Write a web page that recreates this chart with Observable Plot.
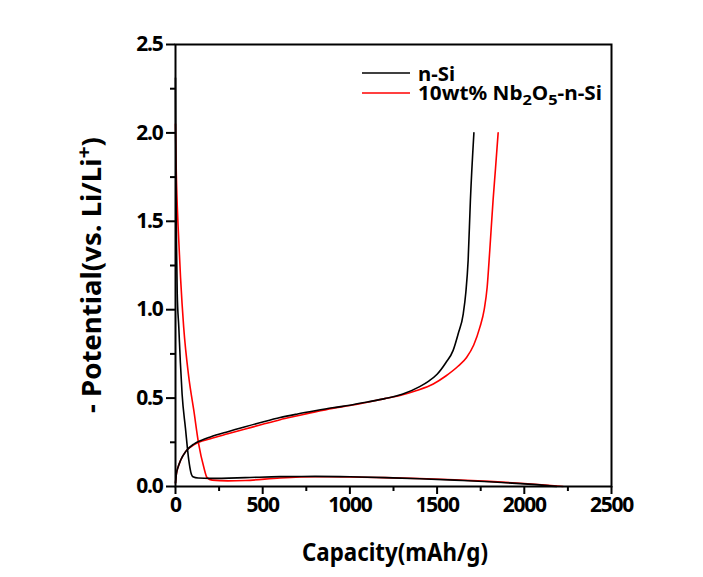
<!DOCTYPE html>
<html>
<head>
<meta charset="utf-8">
<script src="https://cdn.jsdelivr.net/npm/d3@7"></script>
<script src="https://cdn.jsdelivr.net/npm/@observablehq/plot@0.6"></script>
<style>
  html, body { margin: 0; padding: 0; background: #fff; }
  #chart { width: 703px; height: 577px; }
</style>
</head>
<body>
<div id="chart"></div>
<script>
// Series: [capacity (mAh/g), potential (V)]
const nSiDischarge = [[0,2.31],[1,2.0],[3,1.66],[6,1.35],[10,1.09],[19,0.90],[28,0.70],[38,0.52],[57,0.33],[76,0.15],[88,0.08],[100,0.055],[130,0.048],[200,0.046],[400,0.05],[600,0.056],[800,0.057],[1000,0.055],[1200,0.05],[1400,0.044],[1600,0.036],[1800,0.027],[2000,0.015],[2100,0.008],[2185,0.0]];
const nSiCharge = [[0,0.02],[5,0.07],[15,0.11],[30,0.15],[60,0.2],[105,0.24],[150,0.262],[200,0.28],[300,0.31],[400,0.338],[500,0.365],[600,0.39],[700,0.41],[800,0.428],[900,0.445],[1000,0.46],[1100,0.478],[1200,0.497],[1300,0.522],[1400,0.565],[1450,0.595],[1500,0.635],[1550,0.70],[1592,0.77],[1621,0.864],[1650,0.977],[1665,1.10],[1678,1.28],[1691,1.62],[1711,2.0]];
const nbDischarge = [[0,2.05],[3,1.85],[8,1.65],[15,1.47],[29,1.18],[47,0.90],[76,0.62],[105,0.43],[133,0.24],[162,0.11],[181,0.05],[210,0.036],[300,0.032],[400,0.034],[600,0.048],[800,0.055],[1000,0.054],[1200,0.05],[1400,0.045],[1600,0.038],[1800,0.029],[2000,0.017],[2100,0.01],[2222,0.0]];
const nbCharge = [[0,0.02],[5,0.07],[15,0.11],[30,0.15],[60,0.2],[105,0.235],[200,0.27],[300,0.298],[400,0.325],[500,0.352],[600,0.378],[700,0.40],[800,0.422],[900,0.442],[1000,0.458],[1100,0.477],[1200,0.497],[1287,0.515],[1383,0.543],[1478,0.58],[1550,0.625],[1620,0.68],[1669,0.73],[1710,0.80],[1745,0.90],[1770,1.0],[1787,1.127],[1802,1.335],[1821,1.62],[1835,1.8],[1850,2.0]];

const seriesNames = ["n-Si", "10wt% Nb2O5-n-Si"];
const seriesColors = ["#000000", "#ff0000"];

const xMajor = [0, 500, 1000, 1500, 2000, 2500];
const xMinor = [250, 750, 1250, 1750, 2250];
const yMajor = [0, 0.5, 1.0, 1.5, 2.0, 2.5];
const yMinor = [0.25, 0.75, 1.25, 1.75, 2.25];

const FONT = "'Noto Sans', 'DejaVu Sans', sans-serif";

const lineOpts = (color) => ({x: d => d[0], y: d => d[1], stroke: color, strokeWidth: 1.6, curve: "monotone-x"});

const plot = Plot.plot({
  width: 703,
  height: 577,
  marginLeft: 175,
  marginRight: 92,
  marginTop: 44,
  marginBottom: 91,
  style: {fontFamily: FONT, fontSize: "21px", fontWeight: "bold", background: "#fff", overflow: "visible"},
  x: {domain: [0, 2500]},
  y: {domain: [0, 2.5]},
  marks: [
    Plot.line(nbDischarge, lineOpts(seriesColors[1])),
    Plot.line(nbCharge, lineOpts(seriesColors[1])),
    Plot.line(nSiDischarge, lineOpts(seriesColors[0])),
    Plot.line(nSiCharge, lineOpts(seriesColors[0])),
    Plot.axisX({ticks: xMajor, tickSize: 8, tickPadding: 3, strokeWidth: 2, label: null, tickFormat: d => String(d)}),
    Plot.axisX({ticks: xMinor, tickSize: 5, strokeWidth: 2, label: null, tickFormat: () => ""}),
    Plot.axisY({ticks: yMajor, tickSize: 9, tickPadding: 4, strokeWidth: 2, label: null, tickFormat: d => d.toFixed(1)}),
    Plot.axisY({ticks: yMinor, tickSize: 5, strokeWidth: 2, label: null, tickFormat: () => ""}),
    Plot.frame({stroke: "#000", strokeWidth: 2})
  ]
});

document.getElementById("chart").appendChild(plot);

const svg = d3.select(plot);
svg.selectAll("g[aria-label='x-axis tick label'] text, g[aria-label='y-axis tick label'] text")
  .style("letter-spacing", "-1.2px");

// Axis titles
svg.append("text")
  .attr("x", 395).attr("y", 561)
  .style("text-anchor", "middle")
  .style("font-family", FONT).style("font-weight", "bold").style("font-size", "25px")
  .attr("textLength", 186).attr("lengthAdjust", "spacingAndGlyphs")
  .text("Capacity(mAh/g)");

const yt = svg.append("text")
  .attr("transform", "translate(101,275) rotate(-90)")
  .style("text-anchor", "middle")
  .style("font-family", FONT).style("font-weight", "bold").style("font-size", "26px")
  .attr("textLength", 276).attr("lengthAdjust", "spacingAndGlyphs");
yt.append("tspan").text("- Potential(vs. Li/Li");
yt.append("tspan").attr("dy", -10).style("font-size", "20px").text("+");
yt.append("tspan").attr("dy", 10).text(")");

// Legend
const lg = svg.append("g")
  .style("font-family", FONT).style("font-weight", "bold").style("font-size", "19px")
  .style("text-anchor", "start");
[0, 1].forEach(i => {
  const y = 73 + i * 20;
  lg.append("line").attr("x1", 362).attr("x2", 410).attr("y1", y).attr("y2", y)
    .attr("stroke", seriesColors[i]).attr("stroke-width", 1.6);
});
lg.append("text").attr("x", 418).attr("y", 81).style("text-anchor", "start")
  .attr("textLength", 37).attr("lengthAdjust", "spacingAndGlyphs")
  .text(seriesNames[0]);
const t2 = lg.append("text").attr("x", 418).attr("y", 100).style("text-anchor", "start")
  .attr("textLength", 184).attr("lengthAdjust", "spacingAndGlyphs");
t2.append("tspan").text("10wt% Nb");
t2.append("tspan").attr("dy", 5).style("font-size", "15px").text("2");
t2.append("tspan").attr("dy", -5).text("O");
t2.append("tspan").attr("dy", 5).style("font-size", "15px").text("5");
t2.append("tspan").attr("dy", -5).text("-n-Si");
</script>
</body>
</html>
